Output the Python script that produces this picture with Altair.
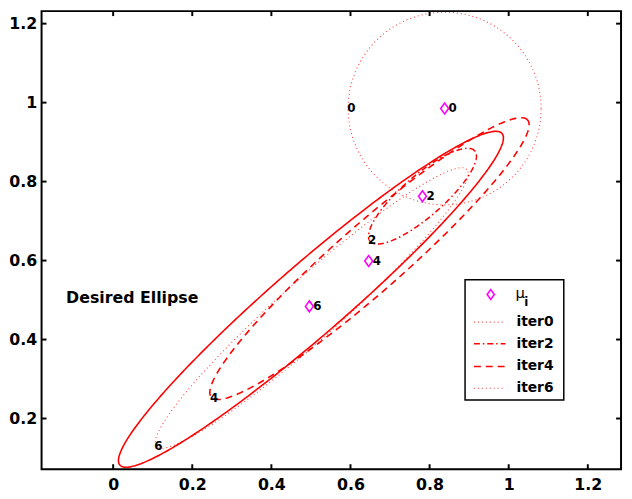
import numpy as np
import pandas as pd
import altair as alt

# ---------------- data ----------------
X_DOMAIN = [-0.181, 1.284]
Y_DOMAIN = [0.0717, 1.2317]
x_ticks = [0, 0.2, 0.4, 0.6, 0.8, 1.0, 1.2]
y_ticks = [0.2, 0.4, 0.6, 0.8, 1.0, 1.2]

# ellipses: centre, semi-axes and orientation (degrees)
ell_names = ["desired", "iter0", "iter2", "iter4", "iter6"]
ell_cx = [0.500, 0.838, 0.782, 0.648, 0.502]
ell_cy = [0.502, 0.985, 0.763, 0.605, 0.480]
ell_a = [0.640, 0.244, 0.175, 0.532, 0.526]
ell_b = [0.090, 0.244, 0.052, 0.085, 0.076]
ell_angle = [41.0, 0.0, 41.0, 41.3, 41.8]

# means (diamonds) with their labels
mu_x = [0.838, 0.782, 0.646, 0.496]
mu_y = [0.985, 0.763, 0.599, 0.484]
mu_lab = ["0", "2", "4", "6"]

# labels placed on the ellipses
el_lab_x = [0.592, 0.644, 0.245, 0.104]
el_lab_y = [0.985, 0.653, 0.253, 0.131]
el_lab = ["0", "2", "4", "6"]

legend_items = ["iter0", "iter2", "iter4", "iter6"]

# ---------------- styles ----------------
W, H = 587, 464
RED = "#ff0000"
MAG = "#ff00ff"
FONT = "DejaVu Sans"
styles = {
    "desired": dict(strokeWidth=1.6),
    "iter0": dict(strokeWidth=1.1, strokeDash=[1, 3], opacity=0.75),
    "iter2": dict(strokeWidth=1.5, strokeDash=[6, 3, 1.5, 3]),
    "iter4": dict(strokeWidth=1.6, strokeDash=[7, 5]),
    "iter6": dict(strokeWidth=1.1, strokeDash=[1, 3], opacity=0.75),
}

# ---------------- build outline table ----------------
rows = []
t = np.linspace(0, 2 * np.pi, 361)
for n, cx, cy, a, b, ang in zip(ell_names, ell_cx, ell_cy, ell_a, ell_b, ell_angle):
    th = np.deg2rad(ang)
    xs = cx + a * np.cos(t) * np.cos(th) - b * np.sin(t) * np.sin(th)
    ys = cy + a * np.cos(t) * np.sin(th) + b * np.sin(t) * np.cos(th)
    for i, (xv, yv) in enumerate(zip(xs, ys)):
        rows.append({"s": n, "i": i, "x": xv, "y": yv})
curves = pd.DataFrame(rows)

xs_ = alt.Scale(domain=X_DOMAIN, nice=False, zero=False)
ys_ = alt.Scale(domain=Y_DOMAIN, nice=False, zero=False)
AX = dict(ticks=False, domain=False, grid=False, labelFont=FONT,
          labelFontWeight="bold", labelFontSize=16, labelColor="black", format="~g")
X = lambda f: alt.X(f, scale=xs_, title=None,
                    axis=alt.Axis(values=x_ticks, labelPadding=8, **AX))
Y = lambda f: alt.Y(f, scale=ys_, title=None,
                    axis=alt.Axis(values=y_ticks, labelPadding=5, **AX))

layers = []
for n in ell_names:
    layers.append(
        alt.Chart(curves).transform_filter(alt.datum.s == n)
        .mark_line(color=RED, clip=True, strokeCap="butt", **styles[n])
        .encode(x=X("x:Q"), y=Y("y:Q"), order="i:Q")
    )

mu_df = pd.DataFrame({"x": mu_x, "y": mu_y, "lab": mu_lab})
DIAMOND = "M-0.73,0L0,-1L0.73,0L0,1Z"
layers.append(
    alt.Chart(mu_df).mark_point(shape=DIAMOND, filled=False, color=MAG,
                                size=121, strokeWidth=1.6, opacity=1)
    .encode(x=X("x:Q"), y=Y("y:Q"))
)
layers.append(
    alt.Chart(mu_df).mark_text(font=FONT, fontWeight="bold", fontSize=12,
                               align="left", baseline="middle", dx=4, color="black")
    .encode(x=X("x:Q"), y=Y("y:Q"), text="lab:N")
)
el_df = pd.DataFrame({"x": el_lab_x, "y": el_lab_y, "lab": el_lab})
layers.append(
    alt.Chart(el_df).mark_text(font=FONT, fontWeight="bold", fontSize=12,
                               align="left", baseline="middle", color="black")
    .encode(x=X("x:Q"), y=Y("y:Q"), text="lab:N")
)
layers.append(
    alt.Chart(pd.DataFrame({"x": [-0.119], "y": [0.506], "t": ["Desired Ellipse"]}))
    .mark_text(font=FONT, fontWeight="bold", fontSize=16, align="left",
               baseline="middle", color="black")
    .encode(x=X("x:Q"), y=Y("y:Q"), text="t:N")
)

# inward ticks on all four sides (MATLAB box style)
xt = pd.DataFrame({"v": x_ticks})
yt = pd.DataFrame({"v": y_ticks})
TL = 5
for y0, y1 in [(0, TL), (H, H - TL)]:
    layers.append(alt.Chart(xt).mark_rule(color="black", strokeWidth=2)
                  .encode(x=X("v:Q"), y=alt.value(y0), y2=alt.value(y1)))
for x0, x1 in [(0, TL), (W, W - TL)]:
    layers.append(alt.Chart(yt).mark_rule(color="black", strokeWidth=2)
                  .encode(y=Y("v:Q"), x=alt.value(x0), x2=alt.value(x1)))

# legend box (pixel layout)
one = pd.DataFrame({"k": [0]})
LX0, LX1, LY0, LY1 = 429, 529, 272, 394
layers.append(alt.Chart(one).mark_rect(fill="white", stroke="black", strokeWidth=1.5)
              .encode(x=alt.value(LX0), x2=alt.value(LX1),
                      y=alt.value(LY0), y2=alt.value(LY1)))
layers.append(alt.Chart(one).mark_point(shape=DIAMOND, filled=False, color=MAG,
                                        size=100, strokeWidth=1.6, opacity=1)
              .encode(x=alt.value(455), y=alt.value(287)))
layers.append(alt.Chart(one).mark_text(font=FONT, fontSize=15, align="left",
                                       baseline="middle", color="black")
              .encode(x=alt.value(480), y=alt.value(286), text=alt.value("μ")))
layers.append(alt.Chart(one).mark_text(font=FONT, fontSize=12, fontWeight="bold",
                                       align="left", baseline="middle", color="black")
              .encode(x=alt.value(489), y=alt.value(295), text=alt.value("i")))
row_y = [315, 337, 360, 382]
for name, ry in zip(legend_items, row_y):
    st = dict(styles[name])
    layers.append(alt.Chart(one).mark_rule(color=RED, strokeCap="butt", **st)
                  .encode(x=alt.value(438), x2=alt.value(470), y=alt.value(ry)))
    layers.append(alt.Chart(one).mark_text(font=FONT, fontSize=14, fontWeight="bold",
                                           align="left", baseline="middle", color="black")
                  .encode(x=alt.value(481), y=alt.value(ry), text=alt.value(name)))

chart = (
    alt.layer(*layers)
    .properties(width=W, height=H, autosize=alt.AutoSizeParams(type="none"),
                padding={"left": 34, "top": 0, "right": 3, "bottom": 24},
                background="white")
    .configure_view(stroke="black", strokeWidth=2)
)

chart.save("out.html", embed_options={"renderer": "svg", "actions": False})
